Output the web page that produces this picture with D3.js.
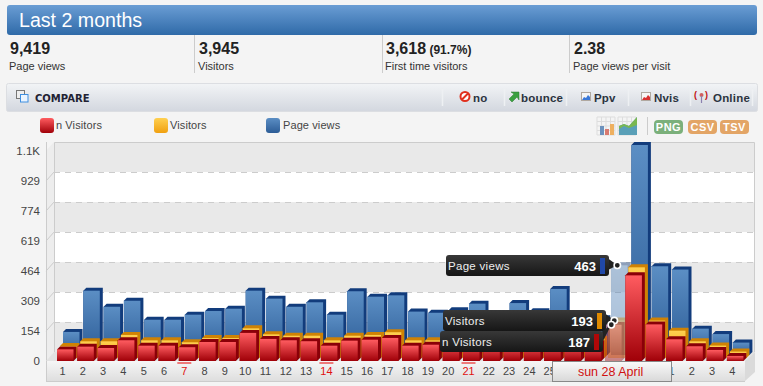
<!DOCTYPE html>
<html>
<head>
<meta charset="utf-8">
<style>
  html, body { margin: 0; padding: 0; background: #f4f4f4; overflow: hidden; }
  svg { display: block; font-family: "Liberation Sans", Arial, sans-serif; }
  .tick line, .domain { display: none; }
</style>
<script src="https://cdn.jsdelivr.net/npm/d3@7"></script>
</head>
<body>
<script>
let days = ["1","2","3","4","5","6","7","8","9","10","11","12","13","14","15","16","17","18","19","20","21","22","23","24","25","26","27","28","29","30","1","2","3","4"];
let pageViews = [119,332,249,280,182,182,208,227,239,332,291,249,272,208,329,301,308,224,218,231,265,200,268,226,341,210,190,463,1084,458,441,136,108,64];
let visitors = [62,86,86,119,91,91,81,103,103,153,122,115,115,91,115,119,133,91,91,105,100,100,95,100,105,95,100,193,468,193,141,86,64,33];
let newVisitors = [60,74,67,107,79,79,71,98,98,145,114,107,102,79,105,110,119,79,84,95,92,90,88,92,96,88,92,187,442,189,112,76,57,26];
let yTicks = [0,154,309,464,619,774,929,1084];
let yLabels = ["0","154","309","464","619","774","929","1.1K"];
let weekendIdx = [6,13,20,27];
let hiddenLabelIdx = [25,26,27,28,29]; // these sit under the date box
let highlightIdx = 27;
let highlightDate = "sun 28 April";

let stats = [
  {v: "9,419", extra: "", label: "Page views"},
  {v: "3,945", extra: "", label: "Visitors"},
  {v: "3,618", extra: " (91.7%)", label: "First time visitors"},
  {v: "2.38", extra: "", label: "Page views per visit"}
];
let statX = [10, 199, 386, 574];
let dividerX = [194, 382, 569];
let compareBtns = ["no", "bounce", "Ppv", "Nvis", "Online"];
let compareX = [473, 521, 594, 654, 713];
let compareSep = [442, 504, 566, 628, 690, 752];

let width = 763, height = 386;
let svg = d3.select("body").append("svg").attr("width", width).attr("height", height);
let defs = svg.append("defs");

function grad(id, stops) {
  let g = defs.append("linearGradient").attr("id", id).attr("x1", 0).attr("y1", 0).attr("x2", 0).attr("y2", 1);
  stops.forEach((c, i) => g.append("stop").attr("offset", i / (stops.length - 1)).attr("stop-color", c));
}
grad("g-head", ["#6a9dd4", "#2f6aa8"]);
grad("g-bar", ["#f2f4f6", "#d3d7df"]);
grad("g-blue", ["#5b8ec4", "#2c5c96"]);
grad("g-orange", ["#ffd050", "#f0a010"]);
grad("g-red", ["#ff5c60", "#a00008"]);
grad("g-band", ["#f6f6f6", "#dedede"]);
grad("g-box", ["#fafafa", "#d8d8d8"]);
grad("g-tip", ["#383838", "#161616"]);

// header
svg.append("rect").attr("x", 7).attr("y", 5).attr("width", 750).attr("height", 30).attr("rx", 3).attr("fill", "url(#g-head)");
svg.append("text").attr("x", 19).attr("y", 27).attr("fill", "#fff").attr("font-size", 19.6).text("Last 2 months");

// stats row
stats.forEach((s, i) => {
  let t = svg.append("text").attr("x", statX[i]).attr("y", 54).attr("fill", "#222").attr("font-weight", "bold").attr("font-size", 16).text(s.v);
  if (s.extra) t.append("tspan").attr("font-size", 12).text(s.extra);
  svg.append("text").attr("x", statX[i] - 1).attr("y", 70).attr("fill", "#333").attr("font-size", 11).text(s.label);
});
svg.selectAll("line.div").data(dividerX).enter().append("line").attr("class", "div")
  .attr("x1", d => d + .5).attr("x2", d => d + .5).attr("y1", 35).attr("y2", 73).attr("stroke", "#ccc");

// compare bar
svg.append("rect").attr("x", 6.5).attr("y", 83.5).attr("width", 751).attr("height", 28).attr("rx", 2)
  .attr("fill", "url(#g-bar)").attr("stroke", "#dcdee2");
svg.append("rect").attr("x", 16.5).attr("y", 90.5).attr("width", 8).attr("height", 8).attr("fill", "#eee").attr("stroke", "#777");
svg.append("rect").attr("x", 20.5).attr("y", 94.5).attr("width", 7.5).attr("height", 7.5).attr("fill", "#eaf4ff").attr("stroke", "#3f8fe0");
svg.append("text").attr("x", 35).attr("y", 102).attr("font-family", "'DejaVu Sans'").attr("font-size", 10).attr("font-weight", "bold").attr("fill", "#223").text("COMPARE");
compareSep.forEach(x => svg.append("line").attr("x1", x + .5).attr("x2", x + .5).attr("y1", 89).attr("y2", 106).attr("stroke", "#eef0f3").attr("stroke-width", 1.5));
compareBtns.forEach((b, i) => {
  svg.append("text").attr("x", compareX[i]).attr("y", 102).attr("font-family", "'Liberation Sans'").attr("font-size", 11.5).attr("font-weight", "bold").attr("fill", "#2b3340").attr("letter-spacing", 0.2).text(b);
});
// little button icons
svg.append("circle").attr("cx", 465).attr("cy", 96.5).attr("r", 4.5).attr("fill", "#fff").attr("stroke", "#e0301e").attr("stroke-width", 2);
svg.append("line").attr("x1", 462).attr("y1", 99.5).attr("x2", 468).attr("y2", 93.5).attr("stroke", "#e0301e").attr("stroke-width", 2);
svg.append("path").attr("d", "M509 99l5-5-3-2h8v8l-2-3-5 5z").attr("fill", "#3aa040").attr("stroke", "#2c7a30").attr("stroke-width", .5);
function miniIcon(x, color) {
  svg.append("rect").attr("x", x + .5).attr("y", 92.5).attr("width", 9).attr("height", 8).attr("fill", "#f6f6f6").attr("stroke", "#b0a8a0");
  svg.append("path").attr("d", `M${x+1} 100l2-3 2 1 2-3 2 2v3z`).attr("fill", color);
}
miniIcon(581, "#3a78d8");
miniIcon(641, "#d83030");
svg.append("text").attr("x", 694).attr("y", 98).attr("font-size", 9).attr("font-weight", "bold").attr("fill", "#c01010").text("(");
svg.append("text").attr("x", 705).attr("y", 98).attr("font-size", 9).attr("font-weight", "bold").attr("fill", "#c01010").text(")");
svg.append("circle").attr("cx", 701.5).attr("cy", 95).attr("r", 2).attr("fill", "#d06060");
svg.append("line").attr("x1", 701.5).attr("x2", 701.5).attr("y1", 96).attr("y2", 103).attr("stroke", "#8a80b0").attr("stroke-width", 1.2);

// legend
let legendItems = [["n Visitors", "g-red", 40, 56], ["Visitors", "g-orange", 154, 170], ["Page views", "g-blue", 266, 283]];
legendItems.forEach(l => {
  svg.append("rect").attr("x", l[2]).attr("y", 118).attr("width", 14).attr("height", 15).attr("rx", 3).attr("fill", `url(#${l[1]})`);
  svg.append("text").attr("x", l[3]).attr("y", 129).attr("font-size", 11).attr("letter-spacing", .1).attr("fill", "#444").text(l[0]);
});

// chart type icons and export badges
svg.append("g").attr("stroke", "#ddd").call(g => {
  [597, 618].forEach(x => {
    d3.range(0, 5).forEach(k => {
      g.append("line").attr("x1", x + k * 4.5).attr("x2", x + k * 4.5).attr("y1", 117).attr("y2", 135);
      g.append("line").attr("x1", x).attr("x2", x + 18).attr("y1", 117 + k * 4.5).attr("y2", 117 + k * 4.5);
    });
  });
});
[[600, 126, "#6d92bd"], [605, 129, "#d87a70"], [610, 124, "#eeb060"]].forEach(b => {
  svg.append("rect").attr("x", b[0]).attr("y", b[1]).attr("width", 4).attr("height", 135 - b[1]).attr("fill", b[2]);
});
svg.append("path").attr("d", "M619 135v-9l5-2 5 2 8-9v18z").attr("fill", "#5aa0b8");
svg.append("path").attr("d", "M619 126l5-2 5 2 8-9v8l-8 3-5-2-5 3z").attr("fill", "#7ab850");
svg.append("line").attr("x1", 647.5).attr("x2", 647.5).attr("y1", 117).attr("y2", 135).attr("stroke", "#ccc");
[["PNG", 654, 29, "#7bb07b"], ["CSV", 688, 29, "#e3a566"], ["TSV", 720, 29, "#e3a566"]].forEach(b => {
  svg.append("rect").attr("x", b[1]).attr("y", 120).attr("width", b[2]).attr("height", 14).attr("rx", 4).attr("fill", b[3]);
  svg.append("text").attr("x", b[1] + b[2] / 2).attr("y", 131).attr("text-anchor", "middle").attr("font-size", 11).attr("font-weight", "bold").attr("fill", "#fff").attr("letter-spacing", .5).text(b[0]);
});

// chart
let floorY = 361, depthX = 8, depthY = 9, stepD = 3;
let xLeft = 46, xRight = 745;
let x = d3.scaleBand().domain(d3.range(days.length)).range([52.35, 742.55]);
let y = d3.scaleLinear().domain([0, 1084]).range([floorY, floorY - 210]);
let barW = 16.5;
let center = i => x(i) + x.bandwidth() / 2;

let frame = svg.append("g");
// left wall
frame.append("path").attr("d", `M${xLeft} ${y(1084)}L${xLeft + depthX} ${y(1084) - depthY}V${floorY - depthY}L${xLeft} ${floorY}Z`).attr("fill", "#ededed");
frame.append("line").attr("x1", xLeft + .5).attr("x2", xLeft + .5).attr("y1", y(1084) - depthY).attr("y2", 381).attr("stroke", "#ccc");
// back wall bands
yTicks.slice(0, -1).forEach((t, i) => {
  frame.append("rect").attr("x", xLeft + depthX).attr("y", y(yTicks[i + 1]) - depthY).attr("width", xRight + 9 - xLeft - depthX)
    .attr("height", y(t) - y(yTicks[i + 1])).attr("fill", i % 2 ? "#fff" : "#e9e9e9");
});
yTicks.slice(1, -1).forEach(t => {
  frame.append("line").attr("x1", xLeft + depthX).attr("x2", xRight + 9).attr("y1", Math.round(y(t)) - depthY + .5).attr("y2", Math.round(y(t)) - depthY + .5)
    .attr("stroke", "#ccc").attr("stroke-dasharray", "6 5");
  frame.append("line").attr("x1", xLeft).attr("x2", xLeft + depthX).attr("y1", y(t)).attr("y2", y(t) - depthY).attr("stroke", "#ccc");
});
frame.append("path").attr("d", `M${xLeft + depthX + .5} ${floorY - depthY}V${y(1084) - depthY + .5}H${xRight + 9.5}V${floorY - depthY}`).attr("fill", "none").attr("stroke", "#ccc");
// floor and front band
frame.append("path").attr("d", `M${xLeft} ${floorY}L${xLeft + depthX} ${floorY - depthY}H${xRight + 10}L${xRight} ${floorY}Z`).attr("fill", "#e2e2e2");
frame.append("rect").attr("x", xLeft + 1).attr("y", floorY).attr("width", xRight - xLeft - 1).attr("height", 20).attr("fill", "url(#g-band)");
frame.append("path").attr("d", `M${xRight} ${floorY}L${xRight + 10} ${floorY - depthY}V${floorY + 11}L${xRight} ${floorY + 20}Z`).attr("fill", "#dadada");
frame.append("line").attr("x1", xLeft).attr("x2", xRight).attr("y1", 381.5).attr("y2", 381.5).attr("stroke", "#ccc");

// series drawn back to front, each one a few px deeper than the next
let series = [
  {name: "Page views", values: pageViews, layer: 2, fill: "url(#g-blue)", side: "#123c7c"},
  {name: "Visitors", values: visitors, layer: 1, fill: "url(#g-orange)", side: "#cf8204"},
  {name: "n Visitors", values: newVisitors, layer: 0, fill: "url(#g-red)", side: "#8a0008"}
];
series.forEach(s => {
  let g = svg.append("g").attr("class", "series").attr("transform", `translate(${s.layer * stepD},${-s.layer * stepD})`);
  let bars = g.selectAll("g").data(s.values).enter().append("g")
    .attr("opacity", (d, i) => i === highlightIdx ? 0.42 : 1);
  let bx = (d, i) => center(i) - 5.5;
  bars.append("path")
    .attr("d", (d, i) => {
      let l = bx(d, i), r = l + barW, t = y(d);
      return `M${l} ${t}L${l + stepD} ${t - stepD}H${r + stepD}V${floorY - stepD}L${r} ${floorY}H${l}Z`;
    })
    .attr("fill", s.side);
  bars.append("rect")
    .attr("x", bx)
    .attr("y", d => y(d))
    .attr("width", barW)
    .attr("height", d => floorY - y(d))
    .attr("fill", s.fill);
});

// axes
let yAxis = d3.axisLeft(y).tickValues(yTicks).tickSize(0).tickPadding(0).tickFormat((d, i) => yLabels[i]);
svg.append("g").attr("transform", "translate(40,0)").call(yAxis)
  .call(g => g.selectAll("text").attr("font-size", 11.5).attr("fill", "#444").attr("font-family", "'Liberation Sans'"));

let xAxis = d3.axisBottom(x).tickSize(0).tickPadding(0)
  .tickValues(d3.range(days.length).filter(i => !hiddenLabelIdx.includes(i)))
  .tickFormat(i => days[i]);
svg.append("g").attr("transform", "translate(0,367)").call(xAxis)
  .call(g => g.selectAll("text").attr("font-size", 11).attr("font-family", "'Liberation Sans'")
    .attr("fill", i => weekendIdx.includes(i) ? "#e01010" : "#444"));
weekendIdx.filter(i => i !== highlightIdx).forEach(i => {
  svg.append("rect").attr("x", center(i) - 7).attr("y", 362).attr("width", 14).attr("height", 2).attr("fill", "#ee7a7a");
});

// tooltips for the hovered day
function tooltip(s, x0, x1, top, swatch) {
  let v = s.values[highlightIdx];
  let ax = center(highlightIdx) + 0.7 + s.layer * stepD;
  let ay = y(v) - s.layer * stepD;
  let g = svg.append("g");
  g.append("path").attr("d", `M${x1 - 3} ${top + 2}L${ax} ${ay}L${x1 - 3} ${top + 16}Z`).attr("fill", "#222");
  g.append("rect").attr("x", x0).attr("y", top).attr("width", x1 - x0).attr("height", 21).attr("rx", 3).attr("fill", "url(#g-tip)");
  g.append("text").attr("x", x0 + 2).attr("y", top + 15).attr("font-size", 11.5).attr("letter-spacing", .3).attr("fill", "#eee").text(s.name);
  g.append("text").attr("x", x1 - 13).attr("y", top + 15.5).attr("text-anchor", "end").attr("font-size", 13).attr("font-weight", "bold").attr("fill", "#fff").text(v);
  g.append("rect").attr("x", x1 - 9).attr("y", top + 3).attr("width", 5).attr("height", 16).attr("fill", swatch);
  g.append("circle").attr("cx", ax).attr("cy", ay).attr("r", 3.2).attr("fill", "#222").attr("stroke", "#fff").attr("stroke-width", 1.6);
}
tooltip(series[0], 446, 609, 255, "#2048a8");
tooltip(series[1], 443, 606, 310, "#e08a00");
tooltip(series[2], 440, 603, 331, "#b00808");

// date box under the hovered day
svg.append("rect").attr("x", 552.5).attr("y", 361.5).attr("width", 119).attr("height", 20).attr("fill", "url(#g-box)").attr("stroke", "#888");
svg.append("text").attr("x", center(highlightIdx)).attr("y", 376).attr("text-anchor", "middle").attr("font-size", 12.5).attr("fill", "#d01010").text(highlightDate);
</script>
</body>
</html>
